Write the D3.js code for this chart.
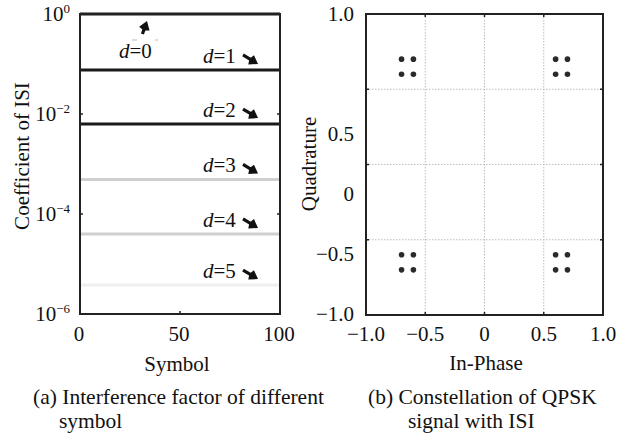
<!DOCTYPE html>
<html><head><meta charset="utf-8">
<script src="https://cdn.jsdelivr.net/npm/d3@7"></script>
<style>
html,body{margin:0;padding:0;background:#fff;}
svg text{font-family:"Liberation Serif","DejaVu Serif",serif;}
</style></head>
<body>
<svg id="c" width="622" height="438"></svg>
<script>
// ---- data ----
const delays = [0, 1, 2, 3, 4, 5];
const isiCoef = [1, 0.076, 0.0063, 0.00049, 0.00004, 0.0000038];
const symbolRange = [0, 100];
const symbolTicks = [0, 50, 100];
const isiTickExp = [0, -2, -4, -6];

const inPhase = [-0.7, -0.6, 0.6, 0.7];
const quadrature = [0.7, 0.6, -0.6, -0.7];
const iqTicks = [-1, -0.5, 0, 0.5, 1];
const iqTickLabels = ["\u22121.0", "\u22120.5", "0", "0.5", "1.0"];
const gridVals = [-0.5, 0, 0.5];

const svg = d3.select("#c");
const FS = 21;
const CAP = 21.5;
const FONT = "'Liberation Serif', 'DejaVu Serif', serif";

// ---------- left panel ----------
const xL = d3.scaleLinear().domain([0, 100]).range([80, 280]);
const yL = d3.scaleLog().domain([1e-6, 1]).range([314, 14]);
const lineColor = d3.scaleOrdinal().domain(delays).range(["#1a1a1a", "#1a1a1a", "#1a1a1a", "#cfcfcf", "#cfcfcf", "#efefef"]);

const gL = svg.append("g").attr("font-family", FONT);

const order = delays.slice().reverse();
gL.selectAll("line.isi").data(order).join("line")
  .attr("class", "isi")
  .attr("x1", xL(symbolRange[0])).attr("x2", xL(symbolRange[1]))
  .attr("y1", d => yL(isiCoef[d])).attr("y2", d => yL(isiCoef[d]))
  .attr("stroke", d => lineColor(d)).attr("stroke-width", 3);

gL.append("rect").attr("x", xL(0)).attr("y", yL(1)).attr("width", xL(100) - xL(0)).attr("height", yL(1e-6) - yL(1))
  .attr("fill", "none").attr("stroke", "#222").attr("stroke-width", 2);

symbolTicks.slice(1, -1).forEach(v => {
  gL.append("line").attr("x1", xL(v)).attr("x2", xL(v)).attr("y1", yL(1e-6)).attr("y2", yL(1e-6) - 3).attr("stroke", "#222").attr("stroke-width", 1.5);
});
isiTickExp.slice(1, -1).forEach(e => {
  const y = yL(Math.pow(10, e));
  gL.append("line").attr("x1", xL(0)).attr("x2", xL(0) + 3).attr("y1", y).attr("y2", y).attr("stroke", "#222").attr("stroke-width", 1.5);
  gL.append("line").attr("x1", xL(100)).attr("x2", xL(100) - 3).attr("y1", y).attr("y2", y).attr("stroke", "#222").attr("stroke-width", 1.5);
});

gL.selectAll("text.xt").data(symbolTicks).join("text").attr("class", "xt")
  .attr("x", d => xL(d) - 1).attr("y", 341).attr("text-anchor", "middle").attr("font-size", FS).attr("fill", "#111")
  .text(d => d);

isiTickExp.forEach(e => {
  const t = gL.append("text").attr("x", 70).attr("y", yL(Math.pow(10, e)) + 7).attr("text-anchor", "end").attr("font-size", FS).attr("fill", "#111");
  t.append("tspan").text("10");
  t.append("tspan").attr("dy", -8).attr("font-size", 13).text(e === 0 ? "0" : "\u2212" + Math.abs(e));
});

gL.append("text").attr("x", 177).attr("y", 371).attr("text-anchor", "middle").attr("font-size", FS).attr("fill", "#111").text("Symbol");
gL.append("text").attr("transform", "translate(29,156) rotate(-90)").attr("text-anchor", "middle").attr("font-size", FS).attr("fill", "#111").text("Coefficient of ISI");

function arrow(x0, y0, x1, y1) {
  const dx = x1 - x0, dy = y1 - y0, L = Math.hypot(dx, dy);
  const ux = dx / L, uy = dy / L, px = -uy, py = ux;
  const hl = 8, hw = 5.5;
  const bx = x1 - ux * hl, by = y1 - uy * hl;
  gL.append("line").attr("x1", x0).attr("y1", y0).attr("x2", bx + ux).attr("y2", by + uy).attr("stroke", "#111").attr("stroke-width", 3.2);
  gL.append("path").attr("d", `M${x1},${y1}L${bx + px * hw},${by + py * hw}L${bx - ux * 2},${by - uy * 2}L${bx - px * hw},${by - py * hw}Z`).attr("fill", "#111");
}
delays.forEach(d => {
  const yv = yL(isiCoef[d]);
  let tx, ty;
  if (d === 0) {
    tx = xL(19.5); ty = yv + 44;
    arrow(xL(31.2), yv + 20, xL(33.5), yv + 7);
    gL.append("line").attr("x1", xL(26)).attr("x2", xL(28.5)).attr("y1", yv + 26).attr("y2", yv + 26).attr("stroke", "#bbb").attr("stroke-width", 1);
    gL.append("line").attr("x1", xL(37.5)).attr("x2", xL(39)).attr("y1", yv + 26).attr("y2", yv + 26).attr("stroke", "#bbb").attr("stroke-width", 1);
  } else {
    tx = xL(61.5); ty = yv - 7;
    arrow(xL(81.5), yv - 15, xL(89), yv - 6);
  }
  const t = gL.append("text").attr("x", tx).attr("y", ty).attr("font-size", FS).attr("fill", "#111");
  t.append("tspan").attr("font-style", "italic").text("d");
  t.append("tspan").text("=" + d);
});

gL.append("text").attr("x", 33).attr("y", 404).attr("font-size", CAP).attr("fill", "#111").text("(a) Interference factor of different");
gL.append("text").attr("x", 59).attr("y", 428).attr("font-size", CAP).attr("fill", "#111").text("symbol");

// ---------- right panel ----------
const xR = d3.scaleLinear().domain([-1, 1]).range([366, 603]);
const yR = d3.scaleLinear().domain([-1, 1]).range([315, 14]);
// tick label placement as printed in the figure
const yRLab = d3.scaleLinear().domain([-1, 0.5]).range([314, 134]);

const gR = svg.append("g").attr("font-family", FONT);
gridVals.forEach(v => {
  gR.append("line").attr("x1", xR(v)).attr("x2", xR(v)).attr("y1", yR(1)).attr("y2", yR(-1)).attr("stroke", "#bdbdbd").attr("stroke-width", 1).attr("stroke-dasharray", "1.5,1.5");
  gR.append("line").attr("y1", yR(v)).attr("y2", yR(v)).attr("x1", xR(-1)).attr("x2", xR(1)).attr("stroke", "#bdbdbd").attr("stroke-width", 1).attr("stroke-dasharray", "1.5,1.5");
  gR.append("line").attr("x1", xR(v)).attr("x2", xR(v)).attr("y1", yR(-1)).attr("y2", yR(-1) - 3).attr("stroke", "#222").attr("stroke-width", 1.5);
  gR.append("line").attr("x1", xR(v)).attr("x2", xR(v)).attr("y1", yR(1)).attr("y2", yR(1) + 3).attr("stroke", "#222").attr("stroke-width", 1.5);
  gR.append("line").attr("y1", yR(v)).attr("y2", yR(v)).attr("x1", xR(-1)).attr("x2", xR(-1) + 3).attr("stroke", "#222").attr("stroke-width", 1.5);
  gR.append("line").attr("y1", yR(v)).attr("y2", yR(v)).attr("x1", xR(1)).attr("x2", xR(1) - 3).attr("stroke", "#222").attr("stroke-width", 1.5);
});
gR.append("rect").attr("x", xR(-1)).attr("y", yR(1)).attr("width", xR(1) - xR(-1)).attr("height", yR(-1) - yR(1))
  .attr("fill", "none").attr("stroke", "#222").attr("stroke-width", 2);

const pts = [];
inPhase.forEach(i => quadrature.forEach(q => pts.push([i, q])));
gR.selectAll("circle").data(pts).join("circle")
  .attr("cx", d => xR(d[0])).attr("cy", d => yR(d[1])).attr("r", 2.8).attr("fill", "#2a2a2a");

gR.selectAll("text.xt").data(iqTicks).join("text").attr("class", "xt")
  .attr("x", d => xR(d)).attr("y", 341).attr("text-anchor", "middle").attr("font-size", FS).attr("fill", "#111")
  .text((d, i) => iqTickLabels[i]);
gR.selectAll("text.yt").data(iqTicks).join("text").attr("class", "yt")
  .attr("x", 354).attr("y", d => (d === 1 ? yR(1) : yRLab(d)) + 7).attr("text-anchor", "end").attr("font-size", FS).attr("fill", "#111")
  .text((d, i) => iqTickLabels[i]);

gR.append("text").attr("x", 486).attr("y", 370).attr("text-anchor", "middle").attr("font-size", FS).attr("fill", "#111").text("In-Phase");
gR.append("text").attr("transform", "translate(316,164) rotate(-90)").attr("text-anchor", "middle").attr("font-size", FS).attr("fill", "#111").text("Quadrature");

gR.append("text").attr("x", 368).attr("y", 404).attr("font-size", CAP).attr("fill", "#111").text("(b) Constellation of QPSK");
gR.append("text").attr("x", 408).attr("y", 428).attr("font-size", CAP).attr("fill", "#111").text("signal with ISI");
</script>
</body></html>
